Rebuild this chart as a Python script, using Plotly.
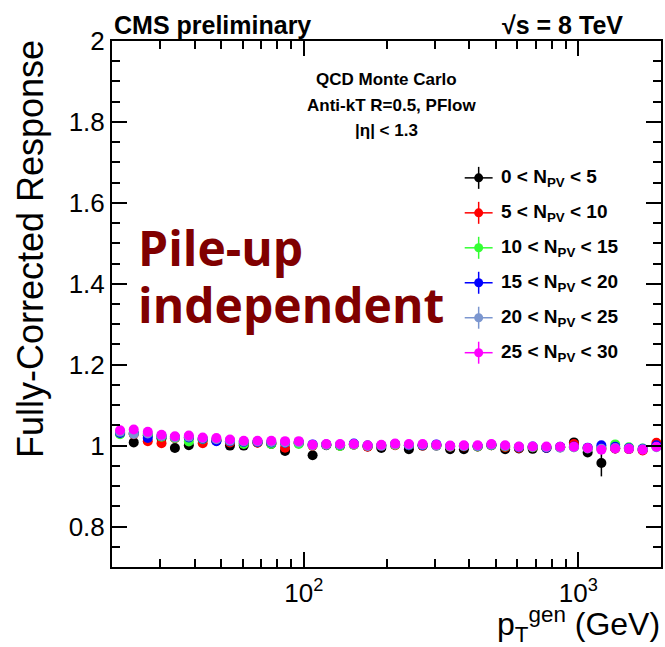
import plotly.graph_objects as go

# Generator-level jet pT bin centres (GeV)
pt = [21.4, 24.0, 27.0, 30.3, 33.9, 38.1, 42.8, 48.0, 53.8, 60.4,
      67.8, 76.1, 85.4, 95.8, 107.6, 120.7, 135.5, 152.1, 170.7, 191.5,
      215.0, 241.3, 270.8, 303.9, 341.1, 382.8, 429.6, 482.2, 541.1, 607.3,
      681.6, 764.9, 858.5, 963.5, 1081, 1213, 1362, 1528, 1715, 1925]

# Fully-corrected response per pile-up bin
resp_npv_0_5 = [1.030, 1.008, 1.025, 1.018, 0.994, 1.001, 1.014, 1.012, 1.000, 1.000,
                1.008, 1.004, 0.987, 1.006, 0.976, 1.001, 1.000, 1.003, 0.998, 0.994,
                1.002, 0.991, 1.000, 1.000, 0.991, 0.991, 0.998, 1.001, 0.991, 0.993,
                0.992, 0.994, 0.996, 1.008, 0.983, 0.957, 0.993, 0.992, 0.989, 1.001]
resp_npv_5_10 = [1.033, 1.028, 1.011, 1.006, 1.018, 1.019, 1.006, 1.013, 1.008, 1.006,
                 1.007, 1.006, 0.995, 1.008, 1.000, 1.002, 1.000, 1.002, 0.997, 0.999,
                 1.001, 1.001, 1.000, 1.001, 0.997, 0.998, 0.998, 1.001, 0.996, 0.994,
                 0.996, 0.995, 0.996, 1.004, 0.994, 0.993, 0.993, 0.992, 0.988, 1.007]
resp_npv_10_15 = [1.028, 1.030, 1.026, 1.022, 1.019, 1.010, 1.016, 1.014, 1.011, 1.004,
                  1.009, 1.004, 1.007, 1.004, 1.001, 1.002, 0.999, 1.002, 1.000, 1.000,
                  1.002, 1.001, 1.001, 1.001, 0.998, 0.999, 0.998, 1.001, 0.998, 0.996,
                  0.996, 0.996, 0.996, 0.996, 0.994, 0.995, 1.003, 0.996, 0.993, 0.998]
resp_npv_15_20 = [1.031, 1.031, 1.019, 1.024, 1.021, 1.020, 1.017, 1.011, 1.011, 1.009,
                  1.009, 1.008, 1.007, 1.009, 1.003, 1.003, 1.002, 1.005, 1.000, 1.000,
                  1.004, 1.001, 1.001, 1.003, 0.999, 0.999, 0.999, 1.002, 0.999, 0.996,
                  0.998, 0.995, 0.997, 0.998, 0.995, 1.001, 0.997, 0.994, 0.992, 1.001]
resp_npv_20_25 = [1.034, 1.029, 1.030, 1.024, 1.020, 1.022, 1.018, 1.016, 1.012, 1.010,
                  1.010, 1.009, 1.008, 1.008, 1.001, 1.002, 1.002, 1.003, 0.999, 1.000,
                  1.003, 1.002, 1.002, 1.000, 0.998, 0.999, 0.999, 1.002, 0.999, 0.997,
                  0.997, 0.996, 0.995, 0.996, 0.993, 0.992, 0.994, 0.993, 0.991, 0.996]
resp_npv_25_30 = [1.038, 1.040, 1.034, 1.027, 1.023, 1.025, 1.020, 1.019, 1.015, 1.012,
                  1.012, 1.012, 1.011, 1.011, 1.002, 1.004, 1.004, 1.004, 1.001, 1.002,
                  1.005, 1.004, 1.004, 1.002, 1.000, 1.001, 1.001, 1.004, 1.001, 0.998,
                  0.998, 0.998, 0.997, 0.997, 0.994, 0.990, 0.993, 0.992, 0.990, 0.997]

# Statistical uncertainties
err_npv_0_5 = [0.004, 0.004, 0.004, 0.004, 0.008, 0.004, 0.004, 0.004, 0.004, 0.004,
               0.004, 0.004, 0.004, 0.004, 0.005, 0.004, 0.004, 0.004, 0.004, 0.004,
               0.004, 0.004, 0.004, 0.004, 0.004, 0.004, 0.004, 0.004, 0.005, 0.005,
               0.005, 0.006, 0.006, 0.007, 0.009, 0.033, 0.010, 0.010, 0.010, 0.010]
err_small = [0.003] * 30 + [0.004] * 10

series_labels = ["0 &lt; N<sub>PV</sub> &lt; 5", "5 &lt; N<sub>PV</sub> &lt; 10",
                 "10 &lt; N<sub>PV</sub> &lt; 15", "15 &lt; N<sub>PV</sub> &lt; 20",
                 "20 &lt; N<sub>PV</sub> &lt; 25", "25 &lt; N<sub>PV</sub> &lt; 30"]
series_colors = ["#000000", "#ff0000", "#33ff33", "#0000ff", "#7b96cf", "#ff00ff"]
series_values = [resp_npv_0_5, resp_npv_5_10, resp_npv_10_15,
                 resp_npv_15_20, resp_npv_20_25, resp_npv_25_30]
series_errors = [err_npv_0_5, err_small, err_small, err_small, err_small, err_small]

x_major = [100, 1000]
x_major_text = ["10<sup>2</sup>", "10<sup>3</sup>"]
x_minor = [30, 40, 50, 60, 70, 80, 90, 200, 300, 400, 500, 600, 700, 800, 900]
y_major = [0.8, 1.0, 1.2, 1.4, 1.6, 1.8, 2.0]
y_major_text = ["0.8", "1", "1.2", "1.4", "1.6", "1.8", "2"]

W, H = 665, 647
L, R, T, B = 112, 663, 41, 567.5


def px(x):
    return (x - L) / (R - L)


def py(y):
    return (B - y) / (B - T)


fig = go.Figure()
for vals, errs, col in zip(series_values, series_errors, series_colors):
    fig.add_trace(go.Scatter(
        x=pt, y=vals, mode="markers",
        marker=dict(color=col, size=10, line=dict(width=0)),
        error_y=dict(type="data", array=errs, color=col, thickness=1.5, width=0),
        showlegend=False, hoverinfo="x+y"))

bold = "Liberation Sans"
annotations = [
    dict(text="<b>CMS preliminary</b>", x=px(112), y=py(25), xanchor="left", yanchor="middle",
         font=dict(family=bold, size=25, color="black")),
    dict(text="<b>√s = 8 TeV</b>", x=px(627), y=py(25), xanchor="right", yanchor="middle",
         font=dict(family=bold, size=25, color="black")),
    dict(text="<b>QCD Monte Carlo</b>", x=px(388), y=py(80), xanchor="center", yanchor="middle",
         font=dict(family=bold, size=17, color="black")),
    dict(text="<b>Anti-kT R=0.5, PFlow</b>", x=px(393), y=py(106), xanchor="center", yanchor="middle",
         font=dict(family=bold, size=17, color="black")),
    dict(text="<b>|η| &lt; 1.3</b>", x=px(387), y=py(131), xanchor="center", yanchor="middle",
         font=dict(family=bold, size=17, color="black")),
    dict(text="<b>Pile-up</b>", x=px(136), y=py(248), xanchor="left", yanchor="middle",
         font=dict(family="Open Sans", size=48, color="#800000")),
    dict(text="<b>independent</b>", x=px(136), y=py(305), xanchor="left", yanchor="middle",
         font=dict(family="Open Sans", size=48, color="#800000")),
    dict(text="Fully-Corrected Response", x=px(31), y=py(249), textangle=-90,
         xanchor="center", yanchor="middle",
         font=dict(family="Liberation Sans", size=36, color="black")),
    dict(text="p<sub>T</sub><sup>gen</sup> (GeV)", x=px(664), y=py(625), xanchor="right",
         yanchor="middle", font=dict(family="Liberation Sans", size=32, color="black")),
]

shapes = []
for i, (lab, col) in enumerate(zip(series_labels, series_colors)):
    yc = 178 + 35 * i
    shapes.append(dict(type="line", xref="paper", yref="paper", x0=px(466), x1=px(494),
                       y0=py(yc), y1=py(yc), line=dict(color=col, width=1.5)))
    shapes.append(dict(type="line", xref="paper", yref="paper", x0=px(480), x1=px(480),
                       y0=py(yc - 11), y1=py(yc + 11), line=dict(color=col, width=1.5)))
    shapes.append(dict(type="circle", xref="paper", yref="paper", x0=px(475.5), x1=px(484.5),
                       y0=py(yc + 4.5), y1=py(yc - 4.5), fillcolor=col, line=dict(width=0)))
    annotations.append(dict(text="<b>" + lab + "</b>", x=px(500), y=py(yc), xanchor="left",
                            yanchor="middle", font=dict(family=bold, size=19, color="black")))

for a in annotations:
    a.update(xref="paper", yref="paper", showarrow=False)

axis_common = dict(showline=True, linecolor="black", linewidth=2, mirror="allticks",
                   ticks="inside", tickcolor="black", tickwidth=1.5, ticklen=15,
                   showgrid=False, zeroline=False,
                   tickfont=dict(family="Liberation Sans", size=26, color="black"))

fig.update_layout(
    width=W, height=H,
    margin=dict(l=L, r=W - R, t=T, b=H - B),
    paper_bgcolor="white", plot_bgcolor="white",
    xaxis=dict(type="log", range=[1.30103, 3.30103], tickmode="array",
               tickvals=x_major, ticktext=x_major_text, ticklabelstandoff=2,
               minor=dict(tickmode="array", tickvals=x_minor, ticks="inside",
                          ticklen=8, tickwidth=1.5, tickcolor="black", showgrid=False),
               **axis_common),
    yaxis=dict(range=[0.7, 2.0], tickmode="array", tickvals=y_major, ticktext=y_major_text,
               minor=dict(dtick=0.05, tick0=0.7, ticks="inside", ticklen=8,
                          tickwidth=1.5, tickcolor="black", showgrid=False),
               **axis_common),
    annotations=annotations,
    shapes=shapes,
    showlegend=False,
)

fig.write_html("out.html")
